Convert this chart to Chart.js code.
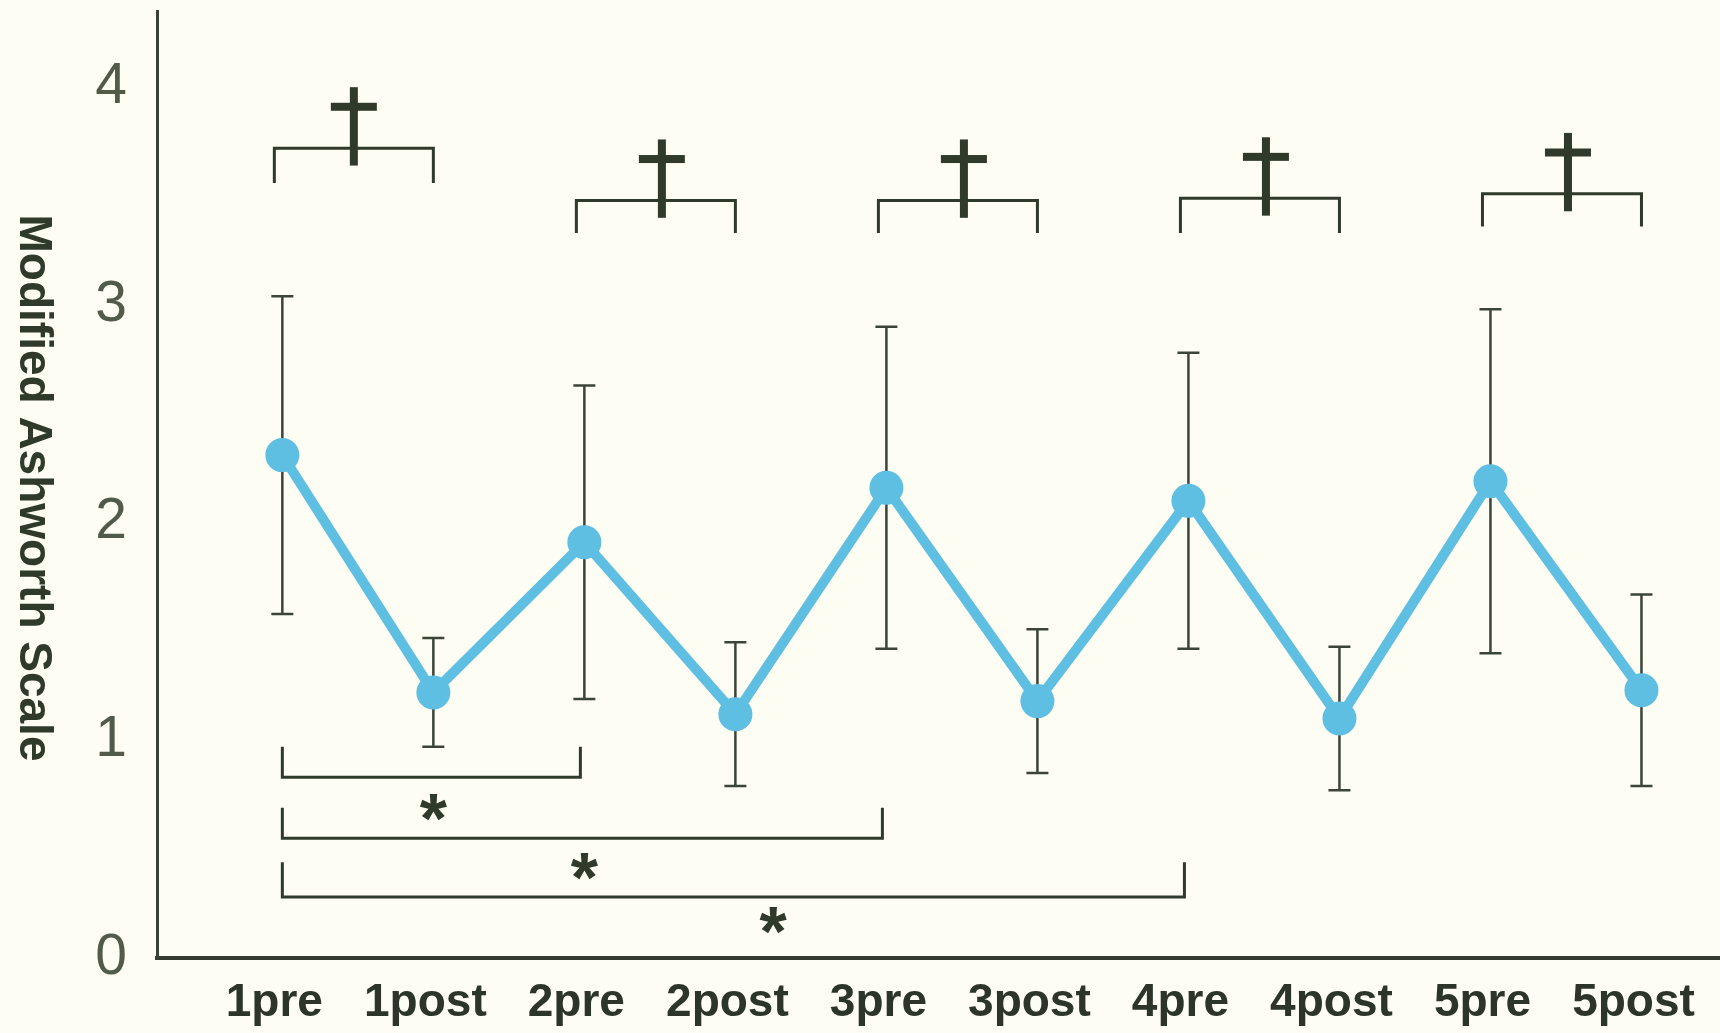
<!DOCTYPE html>
<html>
<head>
<meta charset="utf-8">
<script src="https://cdn.jsdelivr.net/npm/chart.js@4"></script>
<style>
  html, body { margin: 0; padding: 0; background: #fdfdf3; }
  #wrap { width: 1720px; height: 1033px; }
</style>
</head>
<body>
<div id="wrap"><canvas id="myChart" width="1720" height="1033"></canvas></div>
<script>
var categories = ["1pre", "1post", "2pre", "2post", "3pre", "3post", "4pre", "4post", "5pre", "5post"];
var means = [2.31, 1.22, 1.91, 1.12, 2.16, 1.18, 2.10, 1.10, 2.19, 1.23];
var errors = [0.73, 0.25, 0.72, 0.33, 0.74, 0.33, 0.68, 0.33, 0.79, 0.44];
var yTicks = [0, 1, 2, 3, 4];

// dagger brackets (pre vs post of the same session)
var topPairs = [[0, 1], [2, 3], [4, 5], [6, 7], [8, 9]];
var topBarY = [3.72, 3.48, 3.48, 3.49, 3.51];
var topLegY = [3.56, 3.33, 3.33, 3.33, 3.36];

// asterisk brackets (1pre vs later pre)
var bottomPairs = [[0, 2], [0, 4], [0, 6]];
var bottomBarY = [0.83, 0.55, 0.28];
var bottomLegY = [0.97, 0.69, 0.44];
var starX = [1.0, 2.0, 3.25];
var starY = [0.69, 0.42, 0.17];

var ink = "#2f3a2b";

document.addEventListener("DOMContentLoaded", function() {
    var ctx = document.getElementById("myChart").getContext("2d");

    var errorBars = {
        id: "errorBars",
        beforeDatasetsDraw: function(chart) {
            var c = chart.ctx, xs = chart.scales.x, ys = chart.scales.y;
            c.save();
            c.strokeStyle = "#3c4438";
            c.lineWidth = 2.5;
            means.forEach(function(m, i) {
                var x = xs.getPixelForValue(i);
                var yt = ys.getPixelForValue(m + errors[i]);
                var yb = ys.getPixelForValue(m - errors[i]);
                c.beginPath();
                c.moveTo(x, yt); c.lineTo(x, yb);
                c.moveTo(x - 11, yt); c.lineTo(x + 11, yt);
                c.moveTo(x - 11, yb); c.lineTo(x + 11, yb);
                c.stroke();
            });
            c.restore();
        }
    };

    var brackets = {
        id: "brackets",
        afterDatasetsDraw: function(chart) {
            var c = chart.ctx, xs = chart.scales.x, ys = chart.scales.y;
            c.save();
            c.strokeStyle = ink;
            c.fillStyle = ink;
            c.lineWidth = 3;
            topPairs.forEach(function(p, i) {
                var x1 = xs.getPixelForValue(p[0]) - 8;
                var x2 = xs.getPixelForValue(p[1]);
                var yb = ys.getPixelForValue(topBarY[i]);
                var yl = ys.getPixelForValue(topLegY[i]);
                c.beginPath();
                c.moveTo(x1, yl); c.lineTo(x1, yb); c.lineTo(x2, yb); c.lineTo(x2, yl);
                c.stroke();
                var xm = (x1 + x2) / 2 + (i > 0 ? 6 : 0);
                var dTop = ys.getPixelForValue(topBarY[i] + 0.28);
                var dBot = ys.getPixelForValue(topBarY[i] - 0.08);
                var dCross = ys.getPixelForValue(topBarY[i] + 0.19);
                c.fillRect(xm - 4, dTop, 8, dBot - dTop);
                c.fillRect(xm - 23, dCross - 4, 46, 8);
            });
            bottomPairs.forEach(function(p, i) {
                var x1 = xs.getPixelForValue(p[0]);
                var x2 = xs.getPixelForValue(p[1]) - 4;
                var yb = ys.getPixelForValue(bottomBarY[i]);
                var yl = ys.getPixelForValue(bottomLegY[i]);
                c.beginPath();
                c.moveTo(x1, yl); c.lineTo(x1, yb); c.lineTo(x2, yb); c.lineTo(x2, yl);
                c.stroke();
            });
            c.font = "bold 70px 'Liberation Sans', Arial, sans-serif";
            c.textAlign = "center";
            c.textBaseline = "alphabetic";
            starX.forEach(function(sx, i) {
                var m = c.measureText("*");
                var x = xs.getPixelForValue(sx);
                var y = ys.getPixelForValue(starY[i]);
                var off = (m.actualBoundingBoxAscent - m.actualBoundingBoxDescent) / 2;
                c.fillText("*", x, y + off);
            });
            c.restore();
        }
    };

    var sideTitle = {
        id: "sideTitle",
        afterDraw: function(chart) {
            var c = chart.ctx;
            c.save();
            c.translate(33, 488);
            c.rotate(Math.PI / 2);
            c.font = "bold 46px 'Liberation Sans', Arial, sans-serif";
            c.fillStyle = ink;
            c.textAlign = "center";
            c.textBaseline = "middle";
            c.fillText("Modified Ashworth Scale", 0, 0);
            c.restore();
        }
    };

    var myChart = new Chart(ctx, {
        type: "line",
        data: {
            datasets: [{
                data: means.map(function(v, i) { return { x: i, y: v }; }),
                borderColor: "#5ebfe3",
                backgroundColor: "#5ebfe3",
                borderWidth: 10,
                pointRadius: 12,
                pointHoverRadius: 12,
                tension: 0
            }]
        },
        options: {
            responsive: false,
            animation: false,
            layout: {
                autoPadding: false,
                padding: { top: 11, right: 0, left: 0, bottom: 0 }
            },
            plugins: {
                legend: { display: false },
                tooltip: { enabled: false }
            },
            scales: {
                x: {
                    type: "linear",
                    min: -0.83,
                    max: 9.52,
                    grid: { display: false },
                    border: { display: true, color: "#343c30", width: 4 },
                    afterBuildTicks: function(scale) {
                        scale.ticks = categories.map(function(c, i) { return { value: i }; });
                    },
                    afterFit: function(scale) {
                        scale.height = 75;
                        scale.paddingLeft = 0;
                        scale.paddingRight = 0;
                    },
                    ticks: {
                        autoSkip: false,
                        maxRotation: 0,
                        padding: 10,
                        labelOffset: -8,
                        color: "#2c3528",
                        font: { family: "'Liberation Sans', Arial, sans-serif", size: 46, weight: "bold" },
                        callback: function(v) { return categories[v]; }
                    }
                },
                y: {
                    min: 0,
                    max: 4.35,
                    grid: { display: false },
                    border: { display: true, color: "#3a4236", width: 3 },
                    afterBuildTicks: function(scale) {
                        scale.ticks = yTicks.map(function(v) { return { value: v }; });
                    },
                    afterFit: function(scale) {
                        scale.width = 157;
                        scale.paddingTop = 0;
                        scale.paddingBottom = 0;
                    },
                    ticks: {
                        padding: 22,
                        color: "#525b4a",
                        font: { family: "'Liberation Sans', Arial, sans-serif", size: 57 }
                    }
                }
            }
        },
        plugins: [errorBars, brackets, sideTitle]
    });
});
</script>
</body>
</html>
